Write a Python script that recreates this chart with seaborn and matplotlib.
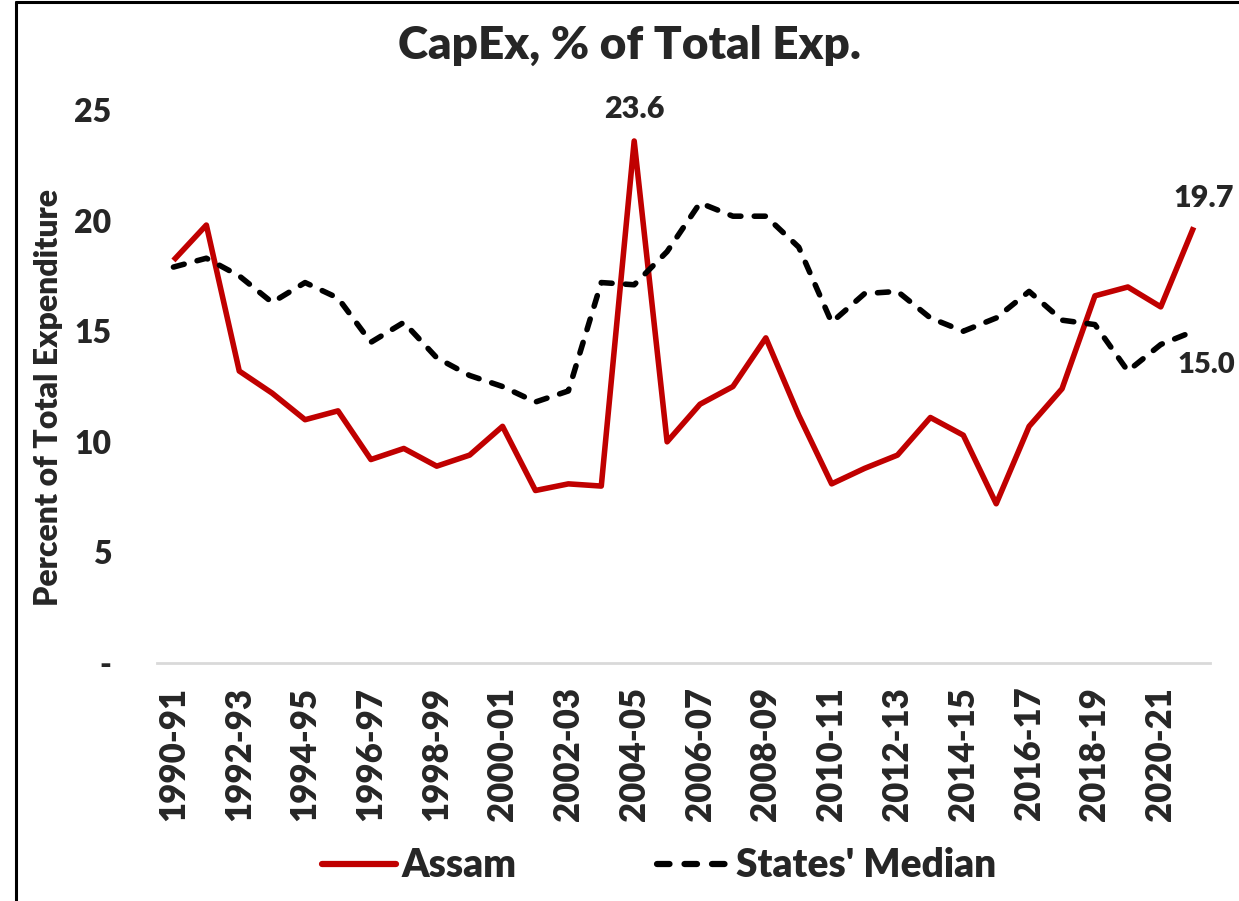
import matplotlib
matplotlib.use("Agg")
import matplotlib.pyplot as plt
from matplotlib.lines import Line2D
import seaborn as sns
import pandas as pd

# Fiscal years 1990-91 .. 2021-22
years = [f"{y}-{str(y + 1)[-2:]}" for y in range(1990, 2022)]

assam = [18.2, 19.8, 13.2, 12.2, 11.0, 11.4, 9.2, 9.7, 8.9, 9.4,
         10.7, 7.8, 8.1, 8.0, 23.6, 10.0, 11.7, 12.5, 14.7, 11.2,
         8.1, 8.8, 9.4, 11.1, 10.3, 7.2, 10.7, 12.4, 16.6, 17.0,
         16.1, 19.7]

states_median = [17.9, 18.3, 17.5, 16.3, 17.2, 16.5, 14.5, 15.4, 13.8, 13.0,
                 12.5, 11.8, 12.3, 17.2, 17.1, 18.6, 20.8, 20.2, 20.2, 18.8,
                 15.4, 16.7, 16.8, 15.6, 15.0, 15.6, 16.8, 15.5, 15.3, 13.2,
                 14.4, 15.0]

series_names = ["Assam", "States' Median"]
y_ticks = [0, 5, 10, 15, 20, 25]
y_tick_labels = ["-", "5", "10", "15", "20", "25"]

df = pd.DataFrame({
    "year": years * 2,
    "value": assam + states_median,
    "series": [series_names[0]] * len(years) + [series_names[1]] * len(years),
})

W = "heavy"

sns.set_style("white")
plt.rcParams["font.family"] = ["Lato", "DejaVu Sans"]
plt.rcParams["font.weight"] = W

fig = plt.figure(figsize=(12.39, 9.01), dpi=100)
ax = fig.add_axes([0.1267, 0.2641, 0.8500, 0.6138])

sns.lineplot(
    data=df, x="year", y="value", hue="series", style="series",
    palette={series_names[0]: "#C00000", series_names[1]: "black"},
    dashes={series_names[0]: "", series_names[1]: (2.0, 2.4)},
    linewidth=4.0, sort=False, ax=ax,
)
for ln in ax.get_lines():
    ln.set_dash_capstyle("round")
    ln.set_solid_capstyle("butt")

ax.set_xlim(-0.5, len(years) - 0.5)
ax.set_ylim(0, 25)
ax.set_yticks(y_ticks)
ax.set_yticklabels(y_tick_labels)
ax.set_xticks(range(0, len(years), 2))
ax.set_xticklabels(years[::2], rotation=90)
ax.tick_params(axis="y", length=0, pad=33, labelsize=23)
ax.tick_params(axis="x", length=0, pad=17, labelsize=25)
for lbl in ax.get_xticklabels() + ax.get_yticklabels():
    lbl.set_fontweight(W)

ax.set_xlabel("")
ax.set_ylabel("Percent of Total Expenditure", fontsize=23, fontweight=W)
ax.yaxis.set_label_coords(-0.089, 0.48)

for side in ["top", "right", "left"]:
    ax.spines[side].set_visible(False)
ax.spines["bottom"].set_color("#d9d9d9")
ax.spines["bottom"].set_linewidth(2)

# Value labels
peak = assam.index(max(assam))
ax.annotate(f"{assam[peak]:.1f}", xy=(peak, assam[peak]), xytext=(0, 13),
            textcoords="offset points", ha="center", va="bottom",
            fontsize=22, fontweight=W)
last = len(years) - 1
ax.annotate(f"{assam[last]:.1f}", xy=(last, assam[last]), xytext=(7, 21),
            textcoords="offset points", ha="center", va="center",
            fontsize=22, fontweight=W)
ax.annotate(f"{states_median[last]:.1f}", xy=(last, states_median[last]),
            xytext=(-12, -24), textcoords="offset points", ha="left",
            va="center", fontsize=21, fontweight=W, annotation_clip=False)

# Legend below the axis labels
handles, labels = ax.get_legend_handles_labels()
ax.get_legend().remove()
for h in handles:
    h.set_linewidth(4.5)
    h.set_dash_capstyle("round")
    h.set_solid_capstyle("round")
fig.legend(handles, labels, loc="center", bbox_to_anchor=(0.532, 0.039),
           ncol=2, frameon=False, handlelength=1.9,
           handletextpad=0.15, columnspacing=3.6,
           prop={"weight": W, "size": 28})

fig.text(0.508, 1 - 45 / 901, "CapEx, % of Total Exp.", ha="center",
         va="center", fontsize=33, fontweight=W)

# Outer frame (left and top edges)
fig.add_artist(Line2D([16 / 1239, 16 / 1239], [0, 1 - 2 / 901],
                      transform=fig.transFigure, color="black", lw=2.2))
fig.add_artist(Line2D([16 / 1239, 1], [1 - 2 / 901, 1 - 2 / 901],
                      transform=fig.transFigure, color="black", lw=2.2))

fig.savefig("out.png", dpi=100)
